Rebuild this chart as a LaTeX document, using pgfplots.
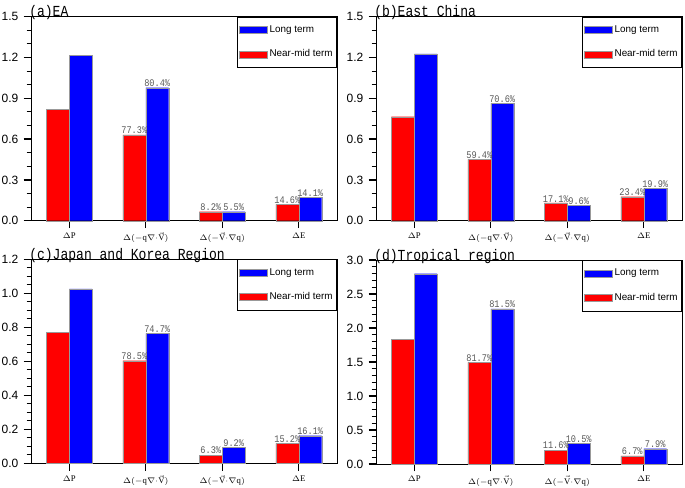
\documentclass[border=0pt]{standalone}
\usepackage{pgfplots}
\pgfplotsset{compat=1.18}
\usepackage{fontspec}
\setmainfont{Liberation Serif}
\setsansfont{Liberation Sans}
\newfontfamily\monof[FakeStretch=0.85]{Liberation Mono}
\definecolor{bred}{RGB}{255,0,0}
\definecolor{bblue}{RGB}{0,0,255}
\pgfplotsset{
  panel/.style={
    scale only axis, width=229.5pt, height=153pt,
    anchor=south west,
    xmin=0.5, xmax=4.5, ymin=0,
    xtick={1,2,3,4},
    xticklabels={$\Delta\mathrm{P}$,$\Delta(-\mathrm{q}\nabla{\cdot}\vec{\mathrm{V}})$,$\Delta(-\vec{\mathrm{V}}{\cdot}\nabla\mathrm{q})$,$\Delta\mathrm{E}$},
    xticklabel style={font=\fontsize{6.5}{7}\selectfont},
    yticklabel style={font=\sffamily\fontsize{9}{10}\selectfont, xshift=-0.5pt},
    /pgf/number format/assume math mode=true,
    /pgf/number format/fixed, /pgf/number format/fixed zerofill,
    /pgf/number format/precision=1,
    xtick pos=left, ytick pos=left, tick align=outside,
    major tick length=5.5pt, minor tick length=3.2pt,
    every major tick/.append style={black, line width=1pt},
    every minor tick/.append style={black, line width=0.8pt},
    axis line style={line width=0.6pt},
    ybar, bar width=0.3, clip=false,
    nodes near coords, point meta=explicit symbolic,
    nodes near coords style={font=\monof\fontsize{7.6}{8}\selectfont, text=black!65, anchor=south, inner sep=0.6pt},
    legend style={at={(1,1)}, anchor=north east, draw=black, line width=0.5pt,
      font=\sffamily\fontsize{7.4}{8.5}\selectfont, inner xsep=1pt, inner ysep=4.5pt,
      row sep=7.5pt, cells={anchor=west}},
    legend image code/.code={\fill[##1] (0pt,-2.6pt) rectangle (21pt,2.6pt);},
  },
  blueb/.style={fill=bblue, draw=black!40, line width=0.2pt, bar shift=0.15},
  redb/.style={fill=bred, draw=black!40, line width=0.2pt, bar shift=-0.15},
}
\newcommand{\ptitle}[1]{\node[anchor=base west, inner sep=0pt, xshift=-1.5pt, font=\monof\fontsize{11.5}{12}\selectfont] at (rel axis cs:0,1) {#1};}
\begin{document}
\begin{tikzpicture}
\useasboundingbox (0,0) rectangle (513.75pt,-365.25pt);
% (a)
\begin{axis}[panel, at={(23.25pt,-165.5pt)}, ymax=1.5, ytick={0,0.3,...,1.5}, minor ytick={0.1,0.2,0.4,0.5,0.7,0.8,1.0,1.1,1.3,1.4}]
\addplot[blueb] coordinates {(1,1.218) [{}] (2,0.978) [80.4\%] (3,0.066) [5.5\%] (4,0.172) [14.1\%]};
\addlegendentry{Long term}
\addplot[redb] coordinates {(1,0.819) [{}] (2,0.630) [77.3\%] (3,0.066) [8.2\%] (4,0.120) [14.6\%]};
\addlegendentry{Near-mid term}
\ptitle{(a)EA}
\end{axis}
% (b)
\begin{axis}[panel, at={(282pt,-165.5pt)}, ymax=1.5, ytick={0,0.3,...,1.5}, minor ytick={0.1,0.2,0.4,0.5,0.7,0.8,1.0,1.1,1.3,1.4}]
\addplot[blueb] coordinates {(1,1.226) [{}] (2,0.863) [70.6\%] (3,0.115) [9.6\%] (4,0.240) [19.9\%]};
\addlegendentry{Long term}
\addplot[redb] coordinates {(1,0.765) [{}] (2,0.451) [59.4\%] (3,0.130) [17.1\%] (4,0.176) [23.4\%]};
\addlegendentry{Near-mid term}
\ptitle{(b)East China}
\end{axis}
% (c)
\begin{axis}[panel, at={(23.25pt,-347.5pt)}, ymax=1.2, ytick={0,0.2,...,1.2}, minor ytick={0.05,0.1,...,1.15}]
\addplot[blueb] coordinates {(1,1.027) [{}] (2,0.765) [74.7\%] (3,0.094) [9.2\%] (4,0.163) [16.1\%]};
\addlegendentry{Long term}
\addplot[redb] coordinates {(1,0.769) [{}] (2,0.604) [78.5\%] (3,0.049) [6.3\%] (4,0.118) [15.2\%]};
\addlegendentry{Near-mid term}
\ptitle{(c)Japan and Korea Region}
\end{axis}
% (d)
\begin{axis}[panel, at={(282pt,-348pt)}, ymax=3.0, ytick={0,0.5,...,3.0}, minor ytick={0.1,0.2,...,2.9}]
\addplot[blueb] coordinates {(1,2.798) [{}] (2,2.280) [81.5\%] (3,0.300) [10.5\%] (4,0.226) [7.9\%]};
\addlegendentry{Long term}
\addplot[redb] coordinates {(1,1.834) [{}] (2,1.494) [81.7\%] (3,0.206) [11.6\%] (4,0.120) [6.7\%]};
\addlegendentry{Near-mid term}
\ptitle{(d)Tropical region}
\end{axis}
\end{tikzpicture}
\end{document}
